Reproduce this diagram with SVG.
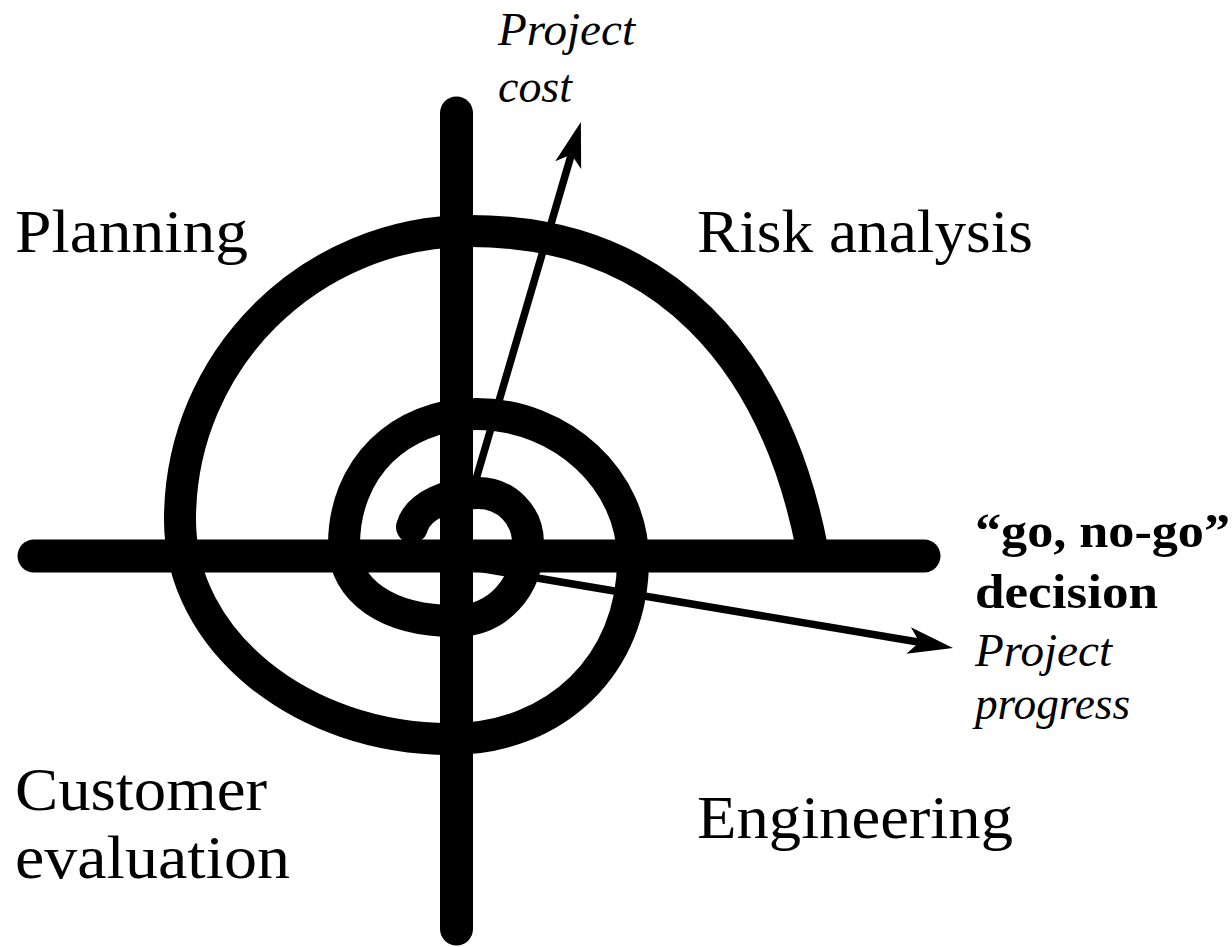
<svg xmlns="http://www.w3.org/2000/svg" width="1232" height="947" viewBox="0 0 1232 947">
  <style>
    .bar { stroke: #000; stroke-width: 33; stroke-linecap: round; fill: none; }
    .spiral { stroke: #000; stroke-width: 32; stroke-linecap: round; stroke-linejoin: round; fill: none; }
    .arrow { stroke: #000; stroke-width: 7.5; fill: none; marker-end: url(#head); }
    .lbl { font-family: "Liberation Serif", "Times New Roman", serif; fill: #000; font-size: 62px; }
    .it { font-family: "Liberation Serif", "Times New Roman", serif; font-style: italic; fill: #000; font-size: 47px; }
    .bd { font-family: "Liberation Serif", "Times New Roman", serif; font-weight: bold; fill: #000; font-size: 48px; }
  </style>
  <defs>
    <marker id="head" viewBox="-50 -20 60 40" refX="-34" refY="0" markerWidth="60" markerHeight="40" markerUnits="userSpaceOnUse" orient="auto" overflow="visible">
      <path d="M0 0 L-45 -13.5 L-34 0 L-45 13.5 Z" fill="#000"/>
    </marker>
  </defs>

  <g id="axes">
    <line class="bar" x1="456.5" y1="113" x2="456.5" y2="929"/>
    <line class="bar" x1="34" y1="556" x2="924" y2="556"/>
  </g>

  <g id="spiral">
    <path class="spiral" d="M 412 527 C 418 505 450 493 478 493 C 506 493 528 515 528 543 C 528 588 497 621 455 621 C 388 621 344 591 344 545 C 344 469 399 414 476 414 C 562 414 633 480 633 560 C 633 664 556 739 450 739 C 301 739 180 640 180 520 C 180 360 310 231 470 231 C 665 231 775 360 812 548"/>
  </g>

  <g id="connectors">
    <line class="arrow" x1="462" y1="527" x2="571.3" y2="154.6"/>
    <line class="arrow" x1="460" y1="565" x2="919.5" y2="642.3"/>
  </g>

  <g id="planning"><text class="lbl" x="15" y="252" textLength="233" lengthAdjust="spacingAndGlyphs">Planning</text></g>
  <g id="risk-analysis"><text class="lbl" x="697" y="252" textLength="336" lengthAdjust="spacingAndGlyphs">Risk analysis</text></g>
  <g id="customer-evaluation">
    <text class="lbl" x="15" y="810" textLength="252" lengthAdjust="spacingAndGlyphs">Customer</text>
    <text class="lbl" x="15" y="878" textLength="275" lengthAdjust="spacingAndGlyphs">evaluation</text>
  </g>
  <g id="engineering"><text class="lbl" x="697" y="838" textLength="316" lengthAdjust="spacingAndGlyphs">Engineering</text></g>
  <g id="project-cost">
    <text class="it" x="498" y="45" textLength="137" lengthAdjust="spacingAndGlyphs">Project</text>
    <text class="it" x="498" y="102" textLength="74" lengthAdjust="spacingAndGlyphs">cost</text>
  </g>
  <g id="go-no-go">
    <text class="bd" x="975" y="547" textLength="255" lengthAdjust="spacingAndGlyphs">“go, no-go”</text>
    <text class="bd" x="975" y="608" textLength="183" lengthAdjust="spacingAndGlyphs">decision</text>
  </g>
  <g id="project-progress">
    <text class="it" x="975" y="666" textLength="137" lengthAdjust="spacingAndGlyphs">Project</text>
    <text class="it" x="975" y="719" textLength="155" lengthAdjust="spacingAndGlyphs">progress</text>
  </g>
</svg>
